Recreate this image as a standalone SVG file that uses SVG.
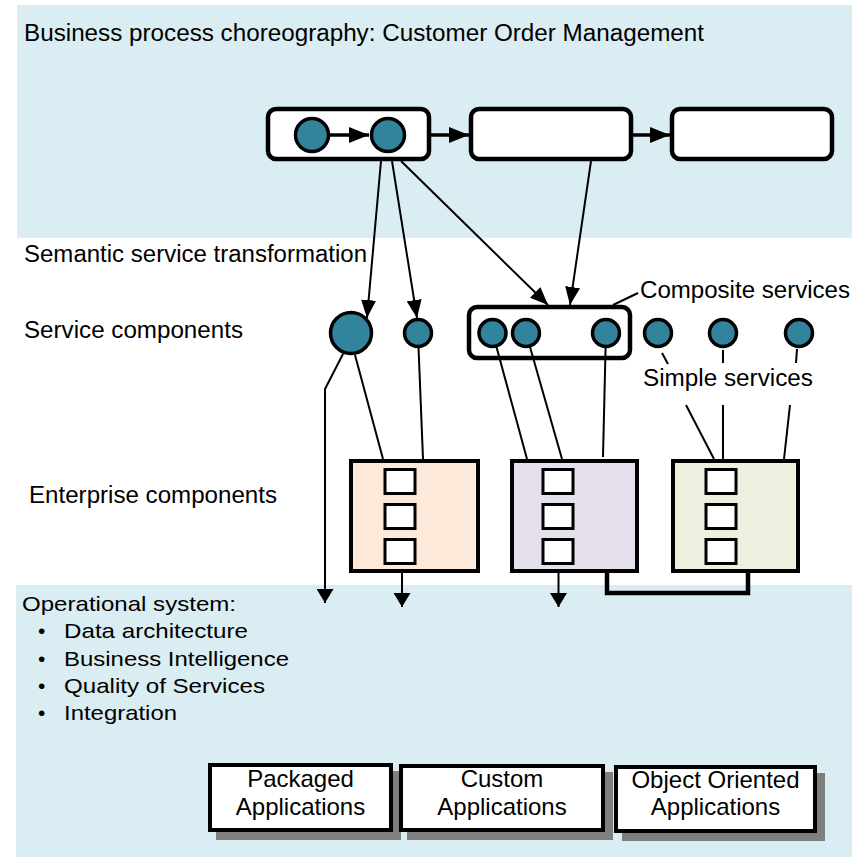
<svg xmlns="http://www.w3.org/2000/svg" width="852" height="857" viewBox="0 0 852 857">
<defs>
<style>
.band{fill:#daedf3}
.t{font-family:"Liberation Sans",Arial,sans-serif;fill:#000}
.pbox{fill:#fff;stroke:#000;stroke-width:4.5}
.dot{fill:#31849b;stroke:#000;stroke-width:3.5}
.ent{stroke:#000;stroke-width:4}
.sq{fill:#fff;stroke:#000;stroke-width:3}
.app{fill:#fff;stroke:#000;stroke-width:4}
.shadow{fill:#7f7f7f}
.thin{fill:none;stroke:#000;stroke-width:2}
.thick{fill:none;stroke:#000;stroke-width:3.5}
.bar{fill:none;stroke:#000;stroke-width:4.5}
</style>
<marker id="ahT" markerUnits="userSpaceOnUse" markerWidth="20" markerHeight="16" viewBox="0 0 20 16" refX="20" refY="8" orient="auto"><path d="M0,0 L20,8 L0,16 z" fill="#000"/></marker>
<marker id="ahD" markerUnits="userSpaceOnUse" markerWidth="18" markerHeight="15" viewBox="0 0 18 15" refX="18" refY="7.5" orient="auto"><path d="M0,0 L18,7.5 L0,15 z" fill="#000"/></marker>
<marker id="ahS" markerUnits="userSpaceOnUse" markerWidth="14" markerHeight="17" viewBox="0 0 14 17" refX="14" refY="8.5" orient="auto"><path d="M0,0 L14,8.5 L0,17 z" fill="#000"/></marker>
</defs>

<rect width="852" height="857" fill="#fff"/>
<g id="bands">
<rect class="band" x="17" y="5" width="835" height="233"/>
<rect class="band" x="16" y="585" width="836" height="272"/>
</g>

<g id="labels">
<text class="t" x="24" y="41" font-size="23" textLength="680" lengthAdjust="spacingAndGlyphs">Business process choreography:  Customer Order Management</text>
<text class="t" x="24" y="262" font-size="23" textLength="343" lengthAdjust="spacingAndGlyphs">Semantic service transformation</text>
<text class="t" x="24" y="338" font-size="23" textLength="219" lengthAdjust="spacingAndGlyphs">Service components</text>
<text class="t" x="29" y="503" font-size="23" textLength="248" lengthAdjust="spacingAndGlyphs">Enterprise components</text>
<text class="t" x="640" y="298" font-size="23" textLength="210" lengthAdjust="spacingAndGlyphs">Composite services</text>
<text class="t" x="643" y="386" font-size="23" textLength="170" lengthAdjust="spacingAndGlyphs">Simple services</text>
<text class="t" x="22" y="611" font-size="21" textLength="214" lengthAdjust="spacingAndGlyphs">Operational system:</text>
<text class="t" x="38" y="638" font-size="21">•</text>
<text class="t" x="64" y="638" font-size="21" textLength="184" lengthAdjust="spacingAndGlyphs">Data architecture</text>
<text class="t" x="38" y="666" font-size="21">•</text>
<text class="t" x="64" y="666" font-size="21" textLength="225" lengthAdjust="spacingAndGlyphs">Business Intelligence</text>
<text class="t" x="38" y="693" font-size="21">•</text>
<text class="t" x="64" y="693" font-size="21" textLength="201" lengthAdjust="spacingAndGlyphs">Quality of Services</text>
<text class="t" x="38" y="720" font-size="21">•</text>
<text class="t" x="64" y="720" font-size="21" textLength="113" lengthAdjust="spacingAndGlyphs">Integration</text>
</g>

<g id="process1">
<rect class="pbox" x="268" y="109" width="161" height="50" rx="8"/>
<circle class="dot" cx="312" cy="135" r="16.5"/>
<circle class="dot" cx="388" cy="135" r="16.5"/>
</g>
<g id="process2"><rect class="pbox" x="471" y="109" width="160" height="50" rx="8"/></g>
<g id="process3"><rect class="pbox" x="672" y="109" width="160" height="50" rx="8"/></g>

<g id="svc-big"><circle class="dot" cx="351" cy="333" r="20.5"/></g>
<g id="svc-small"><circle class="dot" cx="418" cy="333" r="13.5"/></g>
<g id="composite">
<rect class="pbox" x="469" y="307" width="161" height="51" rx="8"/>
<circle class="dot" cx="492.5" cy="333" r="13.5"/>
<circle class="dot" cx="526" cy="333" r="13.5"/>
<circle class="dot" cx="606" cy="333" r="13.5"/>
</g>
<g id="simple1"><circle class="dot" cx="658" cy="333" r="13.5"/></g>
<g id="simple2"><circle class="dot" cx="723" cy="333" r="13.5"/></g>
<g id="simple3"><circle class="dot" cx="799" cy="333" r="13.5"/></g>

<g id="enterprise1">
<rect class="ent" x="351" y="461" width="127" height="110" fill="#fde9d9"/>
<rect class="sq" x="385" y="469.5" width="30" height="24"/>
<rect class="sq" x="385" y="504.5" width="30" height="24"/>
<rect class="sq" x="385" y="539.5" width="30" height="24"/>
</g>
<g id="enterprise2">
<rect class="ent" x="512" y="461" width="125" height="110" fill="#e5e0ec"/>
<rect class="sq" x="543" y="469.5" width="30" height="24"/>
<rect class="sq" x="543" y="504.5" width="30" height="24"/>
<rect class="sq" x="543" y="539.5" width="30" height="24"/>
</g>
<g id="enterprise3">
<rect class="ent" x="673" y="461" width="125" height="110" fill="#ebf1de"/>
<rect class="sq" x="706" y="469.5" width="30" height="24"/>
<rect class="sq" x="706" y="504.5" width="30" height="24"/>
<rect class="sq" x="706" y="539.5" width="30" height="24"/>
</g>

<g id="app-packaged">
<rect class="shadow" x="216" y="771" width="185" height="69"/>
<rect class="app" x="210" y="765" width="181" height="65"/>
<text class="t" x="300.5" y="787" font-size="24" text-anchor="middle">Packaged</text>
<text class="t" x="300.5" y="815" font-size="24" text-anchor="middle">Applications</text>
</g>
<g id="app-custom">
<rect class="shadow" x="407" y="772" width="206" height="68"/>
<rect class="app" x="401" y="766" width="202" height="64"/>
<text class="t" x="502" y="787" font-size="24" text-anchor="middle">Custom</text>
<text class="t" x="502" y="815" font-size="24" text-anchor="middle">Applications</text>
</g>
<g id="app-oo">
<rect class="shadow" x="622" y="773" width="203" height="68"/>
<rect class="app" x="616" y="767" width="199" height="64"/>
<text class="t" x="715.5" y="788" font-size="24" text-anchor="middle">Object Oriented</text>
<text class="t" x="715.5" y="815" font-size="24" text-anchor="middle">Applications</text>
</g>

<g id="connectors">
<line class="thick" x1="330" y1="135" x2="369" y2="135" marker-end="url(#ahT)"/>
<line class="thick" x1="431" y1="135" x2="469" y2="135" marker-end="url(#ahT)"/>
<line class="thick" x1="633" y1="135" x2="670" y2="135" marker-end="url(#ahT)"/>
<line class="thin" x1="381" y1="161" x2="367" y2="318" marker-end="url(#ahD)"/>
<line class="thin" x1="392" y1="161" x2="417" y2="318" marker-end="url(#ahD)"/>
<line class="thin" x1="401" y1="161" x2="548" y2="305" marker-end="url(#ahD)"/>
<line class="thin" x1="591" y1="161" x2="570" y2="305" marker-end="url(#ahD)"/>
<line class="thin" x1="613" y1="305" x2="638" y2="293"/>
<polyline class="thin" points="343,354 325,389 325,603" marker-end="url(#ahS)"/>
<line class="thin" x1="355" y1="355" x2="383" y2="459"/>
<line class="thin" x1="418.5" y1="347" x2="423" y2="459"/>
<line class="thin" x1="496.5" y1="347" x2="527" y2="459"/>
<line class="thin" x1="530" y1="347" x2="562" y2="459"/>
<line class="thin" x1="605.6" y1="347" x2="603" y2="457"/>
<line class="thin" x1="662" y1="353" x2="668" y2="364"/>
<line class="thin" x1="723" y1="350" x2="723" y2="363"/>
<line class="thin" x1="797" y1="349" x2="796" y2="363"/>
<line class="thin" x1="686" y1="405" x2="714" y2="459"/>
<line class="thin" x1="723" y1="405" x2="723" y2="459"/>
<line class="thin" x1="790" y1="405" x2="784" y2="459"/>
<line class="thin" x1="402" y1="573" x2="402" y2="607" marker-end="url(#ahS)"/>
<line class="thin" x1="558.5" y1="573" x2="558.5" y2="607" marker-end="url(#ahS)"/>
<polyline class="bar" points="607,573 607,593 748,593 748,573"/>
</g>
</svg>
